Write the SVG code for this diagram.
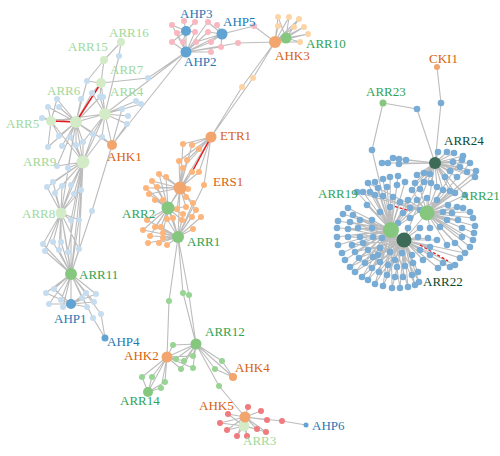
<svg xmlns="http://www.w3.org/2000/svg" width="500" height="456" viewBox="0 0 500 456">
<style>
.e{stroke:#bcbcbc;stroke-width:1.1;fill:none}
.red{stroke:#e8191c;stroke-width:1.5;fill:none}
.rdash{stroke:#e8191c;stroke-width:1.3;fill:none;stroke-dasharray:3 2}
.sl circle{fill:#c6dcef}
.sp circle{fill:#f9b8c0}
.sk circle{fill:#fdd4a6}
.so circle{fill:#fdb57b}
.sg circle{fill:#98d493}
.sr circle{fill:#f07b7e}
.sb circle{fill:#79acd5}
.gl{fill:#d3ecc7}
.gm{fill:#86c780}
.gd{fill:#3e6b57}
.go{fill:#f2a56d}
.gb{fill:#61a3d2}
text{font-family:"Liberation Serif","Times New Roman",serif;font-size:13px}
.tl{fill:#a1d99b}
.tm{fill:#31a354}
.td{fill:#0b4a33}
.to{fill:#d95f0e}
.tb{fill:#1f78b4}
</style>
<rect width="500" height="456" fill="#ffffff"/>
<g id="connectors">
<path class="e" d="M76 122L105 114M76 122L83 162M76 122L57 99M76 122L48 107M76 122L59 107M76 122L42 118M76 122L81 99M76 122L92 93M76 122L100 97M76 122L87 81M76 122L59 136M76 122L70 137M76 122L48 147M76 122L62 146M76 122L83 142M76 122L93 134M76 122L76 145M76 122L57 166M76 122L68 168M76 122L61 213M76 122L112 145
M105 114L101 83M105 114L92 93M105 114L100 97M105 114L103 97M105 114L122 109M105 114L128 116M105 114L127 124M105 114L136 101M105 114L141 104M105 114L93 134M105 114L102 137M105 114L83 142M105 114L112 145M105 114L83 162M105 114L119 56M105 114L186 52M105 114L51 121
M101 83L104 60M101 83L87 81M101 83L148 78L186 52M101 83L92 93M101 83L100 97M104 60L121 42M104 60L87 81M121 42L119 56
M51 121L57 99M51 121L48 107M51 121L42 118M51 121L59 136M51 121L48 147M51 121L83 162
M112 145L122 109M112 145L127 124M112 145L102 137M112 145L186 52M112 145L92 211L71 274
M83 162L61 213M83 162L57 166M83 162L68 168M83 162L76 145M83 162L83 142M83 162L70 137M83 162L93 134M83 162L102 137M83 162L53 182M83 162L47 187M83 162L62 186M83 162L55 193M83 162L71 185M83 162L81 190M83 162L74 194M83 162L71 274M83 162L79 249M83 162L68 252M83 162L79 220M83 162L71 220
M61 213L53 182M61 213L47 187M61 213L62 186M61 213L55 193M61 213L71 185M61 213L81 190M61 213L74 194M61 213L71 220M61 213L79 220M61 213L43 244M61 213L53 242M61 213L61 242M61 213L45 251M61 213L59 250M61 213L68 252M61 213L79 249M61 213L71 274
M71 274L43 244M71 274L53 242M71 274L61 242M71 274L45 251M71 274L59 250M71 274L68 252M71 274L79 249M71 274L71 220M71 274L79 220M71 274L46 293M71 274L54 289M71 274L49 304M71 274L61 300M71 274L63 307M71 274L82 298M71 274L86 293M71 274L96 294M71 274L94 302M71 274L87 307M71 274L93 318M71 274L101 314M71 274L71 304
M71 304L46 293M71 304L54 289M71 304L49 304M71 304L61 300M71 304L63 307M71 304L82 298M71 304L86 293M71 304L96 294M71 304L94 302M71 304L87 307M105 338L93 318M105 338L101 314"/>
<path class="e" d="M186 31L172 25M186 31L184 21M186 31L195 22M186 31L177 33M186 31L195 32M186 31L172 42M186 31L183 42M186 31L186 52
M186 52L222 34M186 52L177 33M186 52L195 32M186 52L208 32M186 52L172 42M186 52L183 42M186 52L196 42M186 52L211 42M186 52L221 47M186 52L211 52M186 52L238 43L275 42M186 52L208 22M186 52L172 25
M222 34L208 22M222 34L217 25M222 34L208 32M222 34L211 42M222 34L221 47M222 34L254 26L275 42M222 34L196 42
M275 42L286 38M275 42L278 17M275 42L289 17M275 42L299 19M275 42L278 26M275 42L294 27M275 42L304 27M275 42L308 34M275 42L300 42M275 42L253 78L211 137M275 42L242 87L211 137
M286 38L278 17M286 38L289 17M286 38L299 19M286 38L294 27M286 38L304 27M286 38L308 34M286 38L300 42"/>
<path class="e" d="M211 137L183 144M211 137L192 145M211 137L199 149M211 137L179 161M211 137L187 160M211 137L183 168M211 137L199 172M211 137L180 188M211 137L168 208M211 137L204 185L178 237
M180 188L179 161M180 188L187 160M180 188L183 168M180 188L192 172M180 188L199 172M180 188L159 174M180 188L166 177M180 188L152 181M180 188L146 188M180 188L149 194M180 188L157 187M180 188L188 189M180 188L186 197M180 188L193 203M180 188L196 210M180 188L186 207M180 188L177 209M180 188L168 208M180 188L178 237M180 188L183 144M180 188L192 145
M168 208L159 174M168 208L166 177M168 208L152 181M168 208L146 188M168 208L149 194M168 208L155 200M168 208L163 200M168 208L157 187M168 208L147 220M168 208L143 230M168 208L150 236M168 208L155 227M168 208L163 233M168 208L161 227M168 208L167 219M168 208L173 218M168 208L177 209M168 208L186 207M168 208L183 214M168 208L182 220M168 208L178 237M168 208L192 172
M178 237L147 220M178 237L143 230M178 237L150 236M178 237L155 227M178 237L163 233M178 237L161 227M178 237L148 243M178 237L159 243M178 237L167 245M178 237L163 238M178 237L167 219M178 237L173 218M178 237L183 214M178 237L182 220M178 237L192 217M178 237L201 217M178 237L196 210M178 237L193 229M178 237L193 203
M178 237L169 301L167 357M178 237L183 293L196 344M178 237L189 295L196 344"/>
<path class="e" d="M196 344L167 357M196 344L173 345M196 344L176 359M196 344L184 361M196 344L181 369M196 344L193 368M196 344L193 356M196 344L222 361M196 344L215 369M196 344L233 377M196 344L219 386L245 417
M233 377L222 361M233 377L215 369
M167 357L173 345M167 357L176 359M167 357L184 361M167 357L181 369M167 357L193 368M167 357L193 356M167 357L142 377M167 357L152 377M167 357L165 382M167 357L161 388M167 357L148 392
M148 392L142 377M148 392L152 377M148 392L165 382M148 392L161 388
M245 417L228 414M245 417L220 423M245 417L227 430M245 417L237 436M245 417L247 436M245 417L257 429M245 417L266 432M245 417L267 420M245 417L261 411M245 417L248 407M245 417L282 421L306 425M245 417L244 426
M244 426L220 423M244 426L227 430M244 426L237 436M244 426L247 436M244 426L257 429M244 426L266 432M244 426L228 414"/>
<path class="e" d="M383 103L372 150L391 230M383 103L417 109L435 163M437 67L441 103L435 163
M435 163L393 158M435 163L399 159M435 163L406 160M435 163L382 163M435 163L388 163M435 163L399 164M435 163L438 152M435 163L447 152M435 163L454 153M435 163L463 156M435 163L470 163M435 163L476 171M435 163L475 177M435 163L462 160M435 163L453 162M435 163L460 167M435 163L467 172M435 163L450 171M435 163L457 177M435 163L445 177M435 163L430 174M435 163L424 173M435 163L417 175M435 163L424 182M435 163L431 183M435 163L437 187M435 163L443 190M435 163L450 191M435 163L455 193M435 163L465 195M435 163L415 183M435 163L420 189M435 163L412 190M435 163L391 230M435 163L427 213M435 163L404 240
M427 213L448 205M427 213L457 207M427 213L463 208M427 213L470 212M427 213L473 218M427 213L475 226M427 213L474 233M427 213L473 240M427 213L470 247M427 213L465 253M427 213L437 187M427 213L443 190M427 213L450 191M427 213L455 193M427 213L465 195M427 213L420 189M427 213L412 190M427 213L470 163M427 213L476 171M427 213L475 177M427 213L463 156M427 213L440 227M427 213L447 220M427 213L443 212M427 213L452 213M427 213L458 220M427 213L462 228M427 213L462 237M427 213L455 243M427 213L447 245M427 213L430 228M427 213L420 210M427 213L410 208M427 213L417 200M427 213L427 198M427 213L437 200M427 213L408 200M427 213L400 202M427 213L368 183M427 213L357 192M427 213L375 195
M391 230L348 208M391 230L343 214M391 230L338 221M391 230L337 228M391 230L337 237M391 230L338 245M391 230L342 253M391 230L345 260M391 230L350 267M391 230L355 272M391 230L362 277M391 230L368 280M391 230L375 284M391 230L383 286M391 230L392 288M391 230L400 288M391 230L408 287M391 230L415 285M391 230L419 282
M391 230L353 215M391 230L350 222M391 230L348 229M391 230L348 237M391 230L352 245M391 230L355 252M391 230L359 258M391 230L365 263M391 230L372 268M391 230L379 272M391 230L387 275
M391 230L360 220M391 230L358 228M391 230L360 237M391 230L363 243M391 230L368 250M391 230L373 257M391 230L380 262M391 230L388 265
M391 230L368 183M391 230L375 182M391 230L383 179M391 230L390 177M391 230L398 176M391 230L405 182M391 230L397 185M391 230L387 187M391 230L378 188M391 230L370 192M391 230L363 192M391 230L357 192M391 230L375 195M391 230L383 196M391 230L393 197M391 230L400 202M391 230L408 200M391 230L417 200M391 230L427 198M391 230L437 200
M391 230L372 220M391 230L380 212M391 230L390 207M391 230L372 228M391 230L373 237M391 230L382 238M391 230L380 248M391 230L398 223M391 230L403 213M391 230L367 205
M404 240L350 267M404 240L355 272M404 240L362 277M404 240L368 280M404 240L375 284M404 240L383 286M404 240L392 288M404 240L400 288M404 240L408 287M404 240L415 285M404 240L419 282
M404 240L353 215M404 240L350 222M404 240L348 229M404 240L348 237M404 240L352 245M404 240L355 252M404 240L359 258M404 240L365 263M404 240L372 268M404 240L379 272M404 240L387 275M404 240L395 277M404 240L403 277M404 240L412 275M404 240L418 272
M404 240L360 220M404 240L358 228M404 240L360 237M404 240L363 243M404 240L368 250M404 240L373 257M404 240L380 262M404 240L388 265M404 240L397 267M404 240L405 266M404 240L413 263M404 240L423 260M404 240L430 255
M404 240L455 265M404 240L450 267M404 240L443 263M404 240L438 268M404 240L460 258M404 240L465 253
M404 240L390 252M404 240L402 253M404 240L412 255M404 240L420 250M404 240L430 247M404 240L437 240M404 240L428 238M404 240L418 237M404 240L420 228M404 240L408 228M404 240L391 230M404 240L427 213M404 240L378 255M404 240L395 260"/>
<path class="red" d="M76 122L51 121M76 122L101 83M211 137L192 172"/>
<path class="rdash" d="M390 205L410 211M420 245L448 261"/>
</g>
<g id="leaves-left" class="sl">
<circle cx="119" cy="56" r="3"/><circle cx="87" cy="81" r="3"/><circle cx="148" cy="78" r="3"/><circle cx="92" cy="93" r="3"/><circle cx="100" cy="97" r="3"/><circle cx="81" cy="99" r="3"/><circle cx="103" cy="97" r="3"/><circle cx="57" cy="99" r="3"/><circle cx="48" cy="107" r="3"/><circle cx="59" cy="107" r="3"/><circle cx="42" cy="118" r="3"/><circle cx="136" cy="101" r="3"/><circle cx="141" cy="104" r="3"/><circle cx="122" cy="109" r="3"/><circle cx="128" cy="116" r="3"/><circle cx="127" cy="124" r="3"/><circle cx="59" cy="136" r="3"/><circle cx="48" cy="147" r="3"/><circle cx="62" cy="146" r="3"/><circle cx="70" cy="137" r="3"/><circle cx="83" cy="142" r="3"/><circle cx="93" cy="134" r="3"/><circle cx="102" cy="137" r="3"/><circle cx="76" cy="145" r="3"/><circle cx="57" cy="166" r="3"/><circle cx="68" cy="168" r="3"/>
<circle cx="53" cy="182" r="3"/><circle cx="47" cy="187" r="3"/><circle cx="62" cy="186" r="3"/><circle cx="55" cy="193" r="3"/><circle cx="71" cy="185" r="3"/><circle cx="81" cy="190" r="3"/><circle cx="74" cy="194" r="3"/><circle cx="71" cy="220" r="3"/><circle cx="79" cy="220" r="3"/><circle cx="92" cy="211" r="3"/><circle cx="43" cy="244" r="3"/><circle cx="53" cy="242" r="3"/><circle cx="61" cy="242" r="3"/><circle cx="45" cy="251" r="3"/><circle cx="59" cy="250" r="3"/><circle cx="68" cy="252" r="3"/><circle cx="79" cy="249" r="3"/>
<circle cx="46" cy="293" r="3"/><circle cx="54" cy="289" r="3"/><circle cx="49" cy="304" r="3"/><circle cx="61" cy="300" r="3"/><circle cx="63" cy="307" r="3"/><circle cx="82" cy="298" r="3"/><circle cx="86" cy="293" r="3"/><circle cx="96" cy="294" r="3"/><circle cx="94" cy="302" r="3"/><circle cx="87" cy="307" r="3"/><circle cx="93" cy="318" r="3"/><circle cx="101" cy="314" r="3"/>
</g>
<g id="leaves-top" class="sp">
<circle cx="172" cy="25" r="3"/><circle cx="184" cy="21" r="3"/><circle cx="195" cy="22" r="3"/><circle cx="208" cy="22" r="3"/><circle cx="217" cy="25" r="3"/><circle cx="177" cy="33" r="3"/><circle cx="195" cy="32" r="3"/><circle cx="208" cy="32" r="3"/><circle cx="172" cy="42" r="3"/><circle cx="183" cy="42" r="3"/><circle cx="196" cy="42" r="3"/><circle cx="211" cy="42" r="3"/><circle cx="221" cy="47" r="3"/><circle cx="211" cy="52" r="3"/><circle cx="238" cy="43" r="3"/><circle cx="254" cy="26" r="3"/>
</g>
<g id="leaves-ahk3" class="sk">
<circle cx="278" cy="17" r="3"/><circle cx="289" cy="17" r="3"/><circle cx="299" cy="19" r="3"/><circle cx="278" cy="26" r="3"/><circle cx="294" cy="27" r="3"/><circle cx="304" cy="27" r="3"/><circle cx="308" cy="34" r="3"/><circle cx="300" cy="42" r="3"/><circle cx="253" cy="78" r="3"/><circle cx="242" cy="87" r="3"/>
</g>
<g id="leaves-etr" class="so">
<circle cx="183" cy="144" r="3"/><circle cx="192" cy="145" r="3"/><circle cx="199" cy="149" r="3"/><circle cx="179" cy="161" r="3"/><circle cx="187" cy="160" r="3"/><circle cx="183" cy="168" r="3"/><circle cx="192" cy="172" r="3"/><circle cx="199" cy="172" r="3"/><circle cx="204" cy="185" r="3"/>
<circle cx="159" cy="174" r="3"/><circle cx="166" cy="177" r="3"/><circle cx="152" cy="181" r="3"/><circle cx="146" cy="188" r="3"/><circle cx="149" cy="194" r="3"/><circle cx="155" cy="200" r="3"/><circle cx="163" cy="200" r="3"/><circle cx="157" cy="187" r="3"/>
<circle cx="188" cy="189" r="3"/><circle cx="186" cy="197" r="3"/><circle cx="193" cy="203" r="3"/><circle cx="196" cy="210" r="3"/><circle cx="201" cy="217" r="3"/><circle cx="192" cy="217" r="3"/><circle cx="183" cy="214" r="3"/><circle cx="186" cy="207" r="3"/><circle cx="177" cy="209" r="3"/><circle cx="182" cy="220" r="3"/><circle cx="167" cy="219" r="3"/><circle cx="173" cy="218" r="3"/>
<circle cx="147" cy="220" r="3"/><circle cx="143" cy="230" r="3"/><circle cx="150" cy="236" r="3"/><circle cx="155" cy="227" r="3"/><circle cx="163" cy="233" r="3"/><circle cx="161" cy="227" r="3"/><circle cx="148" cy="243" r="3"/><circle cx="159" cy="243" r="3"/><circle cx="167" cy="245" r="3"/><circle cx="163" cy="238" r="3"/><circle cx="193" cy="229" r="3"/>
</g>
<g id="leaves-bottom" class="sg">
<circle cx="169" cy="301" r="3"/><circle cx="183" cy="293" r="3"/><circle cx="189" cy="295" r="3"/><circle cx="173" cy="345" r="3"/><circle cx="176" cy="359" r="3"/><circle cx="184" cy="361" r="3"/><circle cx="181" cy="369" r="3"/><circle cx="193" cy="368" r="3"/><circle cx="193" cy="356" r="3"/><circle cx="222" cy="361" r="3"/><circle cx="215" cy="369" r="3"/><circle cx="219" cy="386" r="3"/><circle cx="142" cy="377" r="3"/><circle cx="152" cy="377" r="3"/><circle cx="165" cy="382" r="3"/><circle cx="161" cy="388" r="3"/>
</g>
<g id="leaves-ahk5" class="sr">
<circle cx="228" cy="414" r="3"/><circle cx="220" cy="423" r="3"/><circle cx="227" cy="430" r="3"/><circle cx="237" cy="436" r="3"/><circle cx="247" cy="436" r="3"/><circle cx="257" cy="429" r="3"/><circle cx="266" cy="432" r="3"/><circle cx="267" cy="420" r="3"/><circle cx="261" cy="411" r="3"/><circle cx="248" cy="407" r="3"/><circle cx="282" cy="421" r="3"/>
</g>
<g id="leaves-right" class="sb">
<circle cx="372" cy="150" r="3.3"/><circle cx="441" cy="103" r="3.3"/><circle cx="417" cy="109" r="3.3"/>
<circle cx="393" cy="158" r="3.3"/><circle cx="399" cy="159" r="3.3"/><circle cx="406" cy="160" r="3.3"/><circle cx="382" cy="163" r="3.3"/><circle cx="388" cy="163" r="3.3"/><circle cx="399" cy="164" r="3.3"/><circle cx="438" cy="152" r="3.3"/><circle cx="447" cy="152" r="3.3"/><circle cx="454" cy="153" r="3.3"/><circle cx="463" cy="156" r="3.3"/><circle cx="470" cy="163" r="3.3"/><circle cx="476" cy="171" r="3.3"/><circle cx="475" cy="177" r="3.3"/><circle cx="462" cy="160" r="3.3"/><circle cx="453" cy="162" r="3.3"/><circle cx="460" cy="167" r="3.3"/><circle cx="467" cy="172" r="3.3"/><circle cx="450" cy="171" r="3.3"/><circle cx="457" cy="177" r="3.3"/><circle cx="445" cy="177" r="3.3"/><circle cx="430" cy="174" r="3.3"/><circle cx="424" cy="173" r="3.3"/><circle cx="417" cy="175" r="3.3"/><circle cx="424" cy="182" r="3.3"/><circle cx="431" cy="183" r="3.3"/><circle cx="437" cy="187" r="3.3"/><circle cx="443" cy="190" r="3.3"/><circle cx="450" cy="191" r="3.3"/><circle cx="455" cy="193" r="3.3"/><circle cx="465" cy="195" r="3.3"/><circle cx="415" cy="183" r="3.3"/><circle cx="420" cy="189" r="3.3"/><circle cx="412" cy="190" r="3.3"/>
<circle cx="368" cy="183" r="3.3"/><circle cx="375" cy="182" r="3.3"/><circle cx="383" cy="179" r="3.3"/><circle cx="390" cy="177" r="3.3"/><circle cx="398" cy="176" r="3.3"/><circle cx="405" cy="182" r="3.3"/><circle cx="397" cy="185" r="3.3"/><circle cx="387" cy="187" r="3.3"/><circle cx="378" cy="188" r="3.3"/><circle cx="370" cy="192" r="3.3"/><circle cx="363" cy="192" r="3.3"/><circle cx="357" cy="192" r="3.3"/><circle cx="375" cy="195" r="3.3"/><circle cx="383" cy="196" r="3.3"/><circle cx="393" cy="197" r="3.3"/><circle cx="400" cy="202" r="3.3"/><circle cx="408" cy="200" r="3.3"/><circle cx="417" cy="200" r="3.3"/><circle cx="427" cy="198" r="3.3"/><circle cx="437" cy="200" r="3.3"/>
<circle cx="448" cy="205" r="3.3"/><circle cx="457" cy="207" r="3.3"/><circle cx="463" cy="208" r="3.3"/><circle cx="470" cy="212" r="3.3"/><circle cx="473" cy="218" r="3.3"/><circle cx="475" cy="226" r="3.3"/><circle cx="474" cy="233" r="3.3"/><circle cx="473" cy="240" r="3.3"/><circle cx="470" cy="247" r="3.3"/><circle cx="465" cy="253" r="3.3"/><circle cx="460" cy="258" r="3.3"/><circle cx="455" cy="265" r="3.3"/><circle cx="450" cy="267" r="3.3"/><circle cx="443" cy="263" r="3.3"/><circle cx="438" cy="268" r="3.3"/>
<circle cx="348" cy="208" r="3.3"/><circle cx="343" cy="214" r="3.3"/><circle cx="338" cy="221" r="3.3"/><circle cx="337" cy="228" r="3.3"/><circle cx="337" cy="237" r="3.3"/><circle cx="338" cy="245" r="3.3"/><circle cx="342" cy="253" r="3.3"/><circle cx="345" cy="260" r="3.3"/><circle cx="350" cy="267" r="3.3"/><circle cx="355" cy="272" r="3.3"/><circle cx="362" cy="277" r="3.3"/><circle cx="368" cy="280" r="3.3"/><circle cx="375" cy="284" r="3.3"/><circle cx="383" cy="286" r="3.3"/><circle cx="392" cy="288" r="3.3"/><circle cx="400" cy="288" r="3.3"/><circle cx="408" cy="287" r="3.3"/><circle cx="415" cy="285" r="3.3"/><circle cx="419" cy="282" r="3.3"/>
<circle cx="353" cy="215" r="3.3"/><circle cx="350" cy="222" r="3.3"/><circle cx="348" cy="229" r="3.3"/><circle cx="348" cy="237" r="3.3"/><circle cx="352" cy="245" r="3.3"/><circle cx="355" cy="252" r="3.3"/><circle cx="359" cy="258" r="3.3"/><circle cx="365" cy="263" r="3.3"/><circle cx="372" cy="268" r="3.3"/><circle cx="379" cy="272" r="3.3"/><circle cx="387" cy="275" r="3.3"/><circle cx="395" cy="277" r="3.3"/><circle cx="403" cy="277" r="3.3"/><circle cx="412" cy="275" r="3.3"/><circle cx="418" cy="272" r="3.3"/>
<circle cx="360" cy="220" r="3.3"/><circle cx="358" cy="228" r="3.3"/><circle cx="360" cy="237" r="3.3"/><circle cx="363" cy="243" r="3.3"/><circle cx="368" cy="250" r="3.3"/><circle cx="373" cy="257" r="3.3"/><circle cx="380" cy="262" r="3.3"/><circle cx="388" cy="265" r="3.3"/><circle cx="397" cy="267" r="3.3"/><circle cx="405" cy="266" r="3.3"/><circle cx="413" cy="263" r="3.3"/><circle cx="423" cy="260" r="3.3"/><circle cx="430" cy="255" r="3.3"/>
<circle cx="372" cy="220" r="3.3"/><circle cx="380" cy="212" r="3.3"/><circle cx="390" cy="207" r="3.3"/><circle cx="367" cy="205" r="3.3"/><circle cx="372" cy="228" r="3.3"/><circle cx="373" cy="237" r="3.3"/><circle cx="382" cy="238" r="3.3"/><circle cx="380" cy="248" r="3.3"/><circle cx="378" cy="255" r="3.3"/><circle cx="395" cy="260" r="3.3"/><circle cx="390" cy="252" r="3.3"/><circle cx="402" cy="253" r="3.3"/><circle cx="412" cy="255" r="3.3"/><circle cx="420" cy="250" r="3.3"/><circle cx="430" cy="247" r="3.3"/><circle cx="437" cy="240" r="3.3"/><circle cx="428" cy="238" r="3.3"/><circle cx="418" cy="237" r="3.3"/><circle cx="420" cy="228" r="3.3"/><circle cx="430" cy="228" r="3.3"/><circle cx="440" cy="227" r="3.3"/><circle cx="447" cy="220" r="3.3"/><circle cx="443" cy="212" r="3.3"/><circle cx="452" cy="213" r="3.3"/><circle cx="458" cy="220" r="3.3"/><circle cx="462" cy="228" r="3.3"/><circle cx="462" cy="237" r="3.3"/><circle cx="455" cy="243" r="3.3"/><circle cx="447" cy="245" r="3.3"/><circle cx="410" cy="218" r="3.3"/><circle cx="410" cy="208" r="3.3"/><circle cx="420" cy="210" r="3.3"/><circle cx="403" cy="213" r="3.3"/><circle cx="398" cy="223" r="3.3"/><circle cx="408" cy="228" r="3.3"/>
</g>
<g id="ARR16"><circle class="gl" cx="121" cy="42" r="4"/><text class="tl" x="109" y="37">ARR16</text></g>
<g id="ARR15"><circle class="gl" cx="104" cy="60" r="4"/><text class="tl" x="68" y="51">ARR15</text></g>
<g id="ARR7"><circle class="gl" cx="101" cy="83" r="5"/><text class="tl" x="110" y="74">ARR7</text></g>
<g id="ARR6"><circle class="gl" cx="76" cy="122" r="6"/><text class="tl" x="47" y="95">ARR6</text></g>
<g id="ARR4"><circle class="gl" cx="105" cy="114" r="6"/><text class="tl" x="110" y="96">ARR4</text></g>
<g id="ARR5"><circle class="gl" cx="51" cy="121" r="5"/><text class="tl" x="6" y="128">ARR5</text></g>
<g id="AHK1"><circle class="go" cx="112" cy="145" r="5"/><text class="to" x="107" y="161">AHK1</text></g>
<g id="ARR9"><circle class="gl" cx="83" cy="162" r="6.5"/><text class="tl" x="23" y="166">ARR9</text></g>
<g id="ARR8"><circle class="gl" cx="61" cy="213" r="5.5"/><text class="tl" x="22" y="218">ARR8</text></g>
<g id="ARR11"><circle class="gm" cx="71" cy="274" r="6"/><text class="tm" x="79" y="279">ARR11</text></g>
<g id="AHP1"><circle class="gb" cx="71" cy="304" r="5"/><text class="tb" x="54" y="323">AHP1</text></g>
<g id="AHP4"><circle class="gb" cx="105" cy="338" r="3.5"/><text class="tb" x="107" y="346">AHP4</text></g>
<g id="AHP3"><circle class="gb" cx="186" cy="31" r="5"/><text class="tb" x="180" y="18">AHP3</text></g>
<g id="AHP5"><circle class="gb" cx="222" cy="34" r="5.5"/><text class="tb" x="223" y="26">AHP5</text></g>
<g id="AHP2"><circle class="gb" cx="186" cy="52" r="5.5"/><text class="tb" x="184" y="66">AHP2</text></g>
<g id="AHK3"><circle class="go" cx="275" cy="42" r="6"/><text class="to" x="275" y="60">AHK3</text></g>
<g id="ARR10"><circle class="gm" cx="286" cy="38" r="5.5"/><text class="tm" x="306" y="48">ARR10</text></g>
<g id="ETR1"><circle class="go" cx="211" cy="137" r="5.5"/><text class="to" x="220" y="140">ETR1</text></g>
<g id="ERS1"><circle class="go" cx="180" cy="188" r="6.5"/><text class="to" x="213" y="186">ERS1</text></g>
<g id="ARR2"><circle class="gm" cx="168" cy="208" r="6.5"/><text class="tm" x="122" y="218">ARR2</text></g>
<g id="ARR1"><circle class="gm" cx="178" cy="237" r="6"/><text class="tm" x="187" y="246">ARR1</text></g>
<g id="ARR12"><circle class="gm" cx="196" cy="344" r="5.5"/><text class="tm" x="205" y="336">ARR12</text></g>
<g id="AHK2"><circle class="go" cx="167" cy="357" r="5.5"/><text class="to" x="124" y="360">AHK2</text></g>
<g id="AHK4"><circle class="go" cx="233" cy="377" r="4"/><text class="to" x="235" y="372">AHK4</text></g>
<g id="ARR14"><circle class="gm" cx="148" cy="392" r="5"/><text class="tm" x="120" y="405">ARR14</text></g>
<g id="ARR3"><circle class="gl" cx="244" cy="426" r="5.5"/><text class="tl" x="243" y="445">ARR3</text></g>
<g id="AHK5"><circle class="go" cx="245" cy="417" r="5.5"/><text class="to" x="199" y="410">AHK5</text></g>
<g id="AHP6"><circle class="gb" cx="306" cy="425" r="2.5"/><text class="tb" x="312" y="430">AHP6</text></g>
<g id="CKI1"><circle class="go" cx="437" cy="67" r="3"/><text class="to" x="429" y="63">CKI1</text></g>
<g id="ARR23"><circle class="gm" cx="383" cy="103" r="3.5"/><text class="tm" x="366" y="96">ARR23</text></g>
<g id="ARR24"><circle class="gd" cx="435" cy="163" r="6"/><text class="td" x="444" y="145">ARR24</text></g>
<g id="ARR19"><circle class="gm" cx="391" cy="230" r="8"/><text class="tm" x="318" y="198">ARR19</text></g>
<g id="ARR21"><circle class="gm" cx="427" cy="213" r="7.5"/><text class="tm" x="460" y="200">ARR21</text></g>
<g id="ARR22"><circle class="gd" cx="404" cy="240" r="7.5"/><text class="td" x="423" y="286">ARR22</text></g>
</svg>
